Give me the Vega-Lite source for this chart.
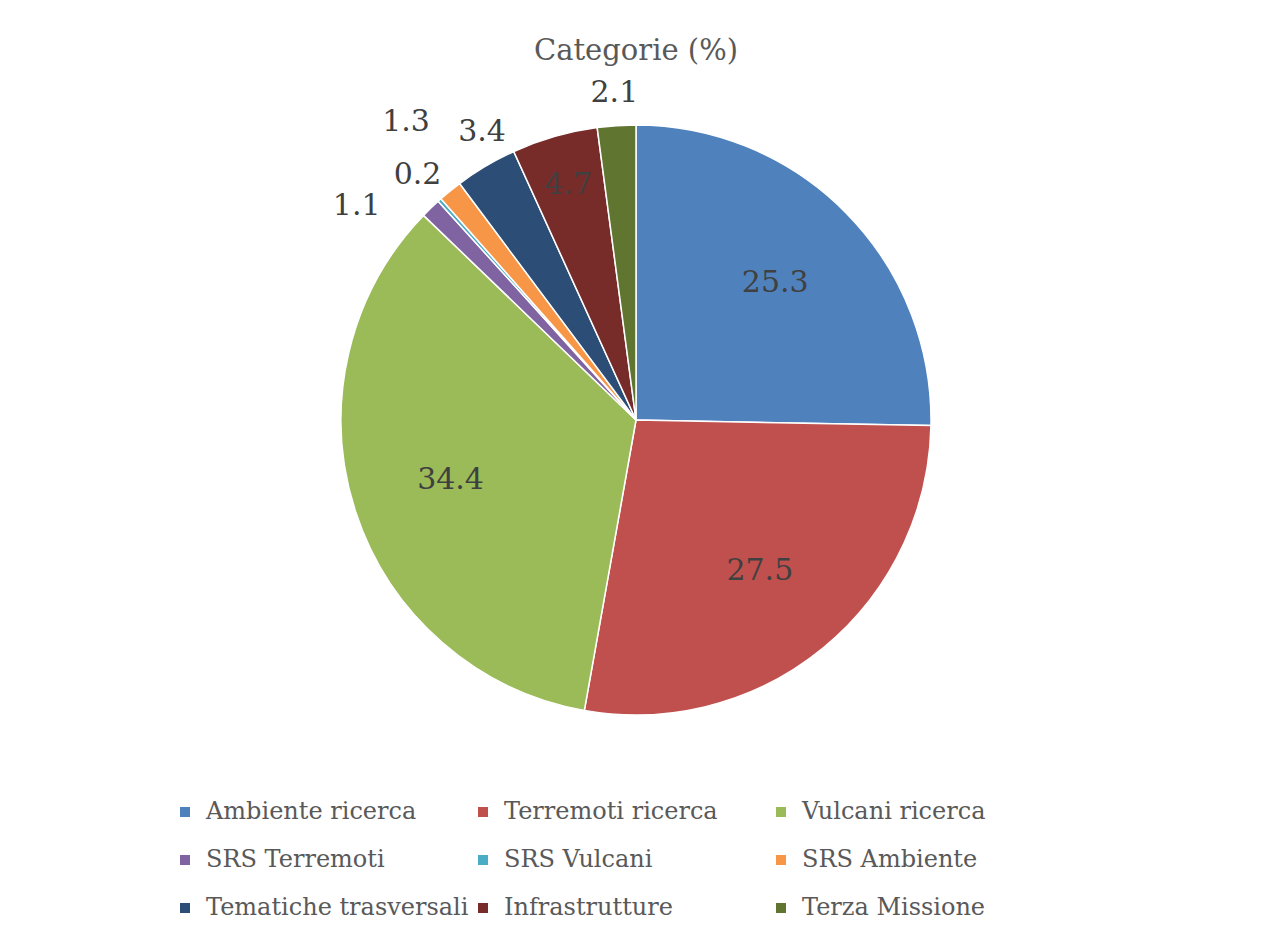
{
  "$schema": "https://vega.github.io/schema/vega-lite/v6.json",
  "width": 1252,
  "height": 660,
  "autosize": {"type": "none"},
  "padding": {"top": 90, "bottom": 195, "left": 10, "right": 0},
  "background": "white",
  "title": {"text": "Categorie (%)", "fontSize": 29, "font": "DejaVu Serif", "fontWeight": "normal", "color": "#595959", "offset": 12, "anchor": "middle", "frame": "group"},
  "config": {"view": {"stroke": null}},
  "data": {
    "values": [
      {"categoria": "Ambiente ricerca", "valore": 25.3, "ordine": 1},
      {"categoria": "Terremoti ricerca", "valore": 27.5, "ordine": 2},
      {"categoria": "Vulcani ricerca", "valore": 34.4, "ordine": 3},
      {"categoria": "SRS Terremoti", "valore": 1.1, "ordine": 4},
      {"categoria": "SRS Vulcani", "valore": 0.2, "ordine": 5},
      {"categoria": "SRS Ambiente", "valore": 1.3, "ordine": 6},
      {"categoria": "Tematiche trasversali", "valore": 3.4, "ordine": 7},
      {"categoria": "Infrastrutture", "valore": 4.7, "ordine": 8},
      {"categoria": "Terza Missione", "valore": 2.1, "ordine": 9}
    ]
  },
  "transform": [
    {"stack": "valore", "groupby": [], "sort": [{"field": "ordine", "order": "ascending"}], "as": ["v0", "v1"]},
    {"calculate": "(datum.v0 + datum.v1) / 2", "as": "mid"}
  ],
  "layer": [
    {
      "mark": {"type": "arc", "outerRadius": 295, "stroke": "white", "strokeWidth": 1.5},
      "encoding": {
        "theta": {"field": "v0", "type": "quantitative", "scale": {"domain": [0, 100]}},
        "theta2": {"field": "v1"},
        "color": {
          "field": "categoria",
          "type": "nominal",
          "sort": ["Ambiente ricerca", "Terremoti ricerca", "Vulcani ricerca", "SRS Terremoti", "SRS Vulcani", "SRS Ambiente", "Tematiche trasversali", "Infrastrutture", "Terza Missione"],
          "scale": {
            "domain": ["Ambiente ricerca", "Terremoti ricerca", "Vulcani ricerca", "SRS Terremoti", "SRS Vulcani", "SRS Ambiente", "Tematiche trasversali", "Infrastrutture", "Terza Missione"],
            "range": ["#4F81BD", "#C0504D", "#9BBB59", "#8064A2", "#4BACC6", "#F79646", "#2C4D75", "#772C2A", "#5F7530"]
          },
          "legend": {
            "title": null,
            "orient": "none",
            "legendX": 163,
            "legendY": 710,
            "direction": "horizontal",
            "columns": 3,
            "gridAlign": "all",
            "symbolType": "square",
            "symbolSize": 100,
            "symbolStrokeWidth": 0,
            "labelFont": "DejaVu Serif",
            "labelFontSize": 24,
            "labelColor": "#595959",
            "labelLimit": 400,
            "labelOffset": 9,
            "columnPadding": 2,
            "rowPadding": 24
          }
        }
      }
    },
    {
      "transform": [{"filter": "datum.valore >= 10"}],
      "mark": {"type": "text", "radius": 195, "font": "DejaVu Serif", "fontSize": 30, "color": "#404040"},
      "encoding": {
        "theta": {"field": "mid", "type": "quantitative", "scale": {"domain": [0, 100]}},
        "text": {"field": "valore", "type": "quantitative", "format": ".1f"}
      }
    },
    {
      "transform": [{"filter": "datum.categoria == 'Infrastrutture'"}],
      "mark": {"type": "text", "radius": 245, "font": "DejaVu Serif", "fontSize": 30, "color": "#404040"},
      "encoding": {
        "theta": {"field": "mid", "type": "quantitative", "scale": {"domain": [0, 100]}},
        "text": {"field": "valore", "type": "quantitative", "format": ".1f"}
      }
    },
    {
      "transform": [{"filter": "datum.categoria == 'Terza Missione' || datum.categoria == 'SRS Vulcani'"}],
      "mark": {"type": "text", "radius": 328, "font": "DejaVu Serif", "fontSize": 30, "color": "#404040"},
      "encoding": {
        "theta": {"field": "mid", "type": "quantitative", "scale": {"domain": [0, 100]}},
        "text": {"field": "valore", "type": "quantitative", "format": ".1f"}
      }
    },
    {
      "transform": [{"filter": "datum.categoria == 'Tematiche trasversali'"}],
      "mark": {"type": "text", "radius": 330, "dx": 14, "dy": -4, "font": "DejaVu Serif", "fontSize": 30, "color": "#404040"},
      "encoding": {
        "theta": {"field": "mid", "type": "quantitative", "scale": {"domain": [0, 100]}},
        "text": {"field": "valore", "type": "quantitative", "format": ".1f"}
      }
    },
    {
      "transform": [{"filter": "datum.categoria == 'SRS Ambiente'"}],
      "mark": {"type": "text", "radius": 330, "dx": -22, "dy": -42, "font": "DejaVu Serif", "fontSize": 30, "color": "#404040"},
      "encoding": {
        "theta": {"field": "mid", "type": "quantitative", "scale": {"domain": [0, 100]}},
        "text": {"field": "valore", "type": "quantitative", "format": ".1f"}
      }
    },
    {
      "transform": [{"filter": "datum.categoria == 'SRS Terremoti'"}],
      "mark": {"type": "text", "radius": 318, "dx": -58, "dy": 14, "font": "DejaVu Serif", "fontSize": 30, "color": "#404040"},
      "encoding": {
        "theta": {"field": "mid", "type": "quantitative", "scale": {"domain": [0, 100]}},
        "text": {"field": "valore", "type": "quantitative", "format": ".1f"}
      }
    }
  ]
}
